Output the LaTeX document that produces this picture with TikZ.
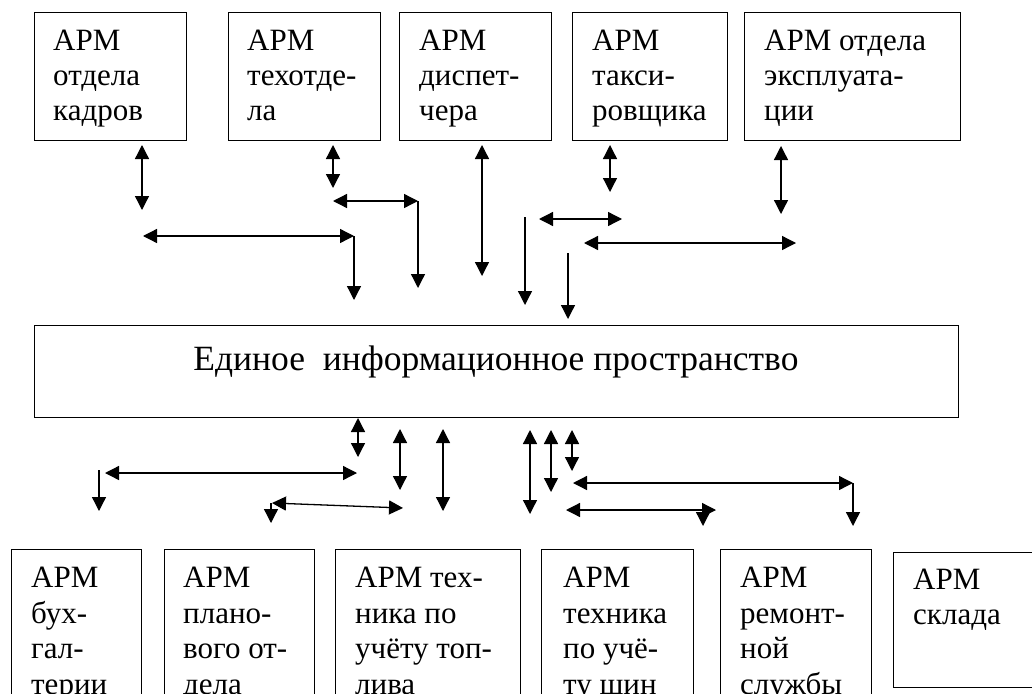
\documentclass[tikz,border=0pt]{standalone}
\usepackage{fontspec}
\setmainfont{Liberation Serif}
\usetikzlibrary{arrows.meta}
\tikzset{
  box/.style={draw, line width=1.3pt, inner sep=0pt, anchor=north west},
  lbl/.style={font=\fontsize{31}{35}\selectfont, align=left, inner sep=0pt, anchor=north west},
  blbl/.style={font=\fontsize{31}{35.5}\selectfont, align=left, inner sep=0pt, anchor=north west},
  tip/.tip={Triangle[length=14pt,width=14pt]},
  dbl/.style={line width=1.3pt, tip-tip},
  one/.style={line width=1.3pt, -tip},
}
\begin{document}
\begin{tikzpicture}[x=1pt,y=-1pt]
\useasboundingbox (0,0) rectangle (1032,693);
% top boxes
\node[box, minimum width=152, minimum height=128] (t1) at (34,12) {};
\node[box, minimum width=152, minimum height=128] (t2) at (228,12) {};
\node[box, minimum width=152, minimum height=128] (t3) at (399,12) {};
\node[box, minimum width=155, minimum height=128] (t4) at (572,12) {};
\node[box, minimum width=216, minimum height=128] (t5) at (744,12) {};
\node[lbl] (t1l) at (53,29.5) {АРМ\\отдела\\кадров};
\node[lbl] (t2l) at (247,29.5) {АРМ\\техотде-\\ла};
\node[lbl] (t3l) at (419,29.5) {АРМ\\диспет-\\чера};
\node[lbl] (t4l) at (592,29.5) {АРМ\\такси-\\ровщика};
\node[lbl] (t5l) at (764,29.5) {АРМ отдела\\эксплуата-\\ции};
% bus
\node[box, minimum width=924, minimum height=92] (bus) at (34,325) {};
\node[font=\fontsize{35.5}{40}\selectfont, inner sep=0pt, anchor=base] (busl) at (496,370) {Единое\ \ информационное пространство};
% bottom boxes
\node[box, minimum width=130, minimum height=180] (b1) at (11,549) {};
\node[box, minimum width=150, minimum height=180] (b2) at (164,549) {};
\node[box, minimum width=185, minimum height=180] (b3) at (335,549) {};
\node[box, minimum width=152, minimum height=180] (b4) at (541,549) {};
\node[box, minimum width=151, minimum height=180] (b5) at (720,549) {};
\node[box, minimum width=155, minimum height=135] (b6) at (893,552) {};
\node[blbl] (b1l) at (31,567) {АРМ\\бух-\\гал-\\терии};
\node[blbl] (b2l) at (183,567) {АРМ\\плано-\\вого от-\\дела};
\node[blbl] (b3l) at (355,567) {АРМ тех-\\ника по\\учёту топ-\\лива};
\node[blbl] (b4l) at (563,567) {АРМ\\техника\\по учё-\\ту шин};
\node[blbl] (b5l) at (740,567) {АРМ\\ремонт-\\ной\\службы};
\node[lbl] (b6l) at (913,569) {АРМ\\склада};
% top connector points
\coordinate (a1u) at (142,145); \coordinate (a1d) at (142,210);
\coordinate (a2u) at (333,145); \coordinate (a2d) at (333,188);
\coordinate (a3l) at (333,201); \coordinate (a3r) at (418,201); \coordinate (a3d) at (418,288);
\coordinate (a4l) at (143,236); \coordinate (a4r) at (354,236); \coordinate (a4d) at (354,300);
\coordinate (a5u) at (482,145); \coordinate (a5d) at (482,276);
\coordinate (c1u) at (610,145); \coordinate (c1d) at (610,192);
\coordinate (c2l) at (539,219); \coordinate (c2r) at (622,219);
\coordinate (c3u) at (525,217); \coordinate (c3d) at (525,305);
\coordinate (c4l) at (584,243); \coordinate (c4r) at (796,243);
\coordinate (c5u) at (568,253); \coordinate (c5d) at (568,319);
\coordinate (c6u) at (781,146); \coordinate (c6d) at (781,214);
\draw[dbl] (a1u) -- (a1d);
\draw[dbl] (a2u) -- (a2d);
\draw[dbl] (a3l) -- (a3r); \draw[one] (a3r) -- (a3d);
\draw[dbl] (a4l) -- (a4r); \draw[one] (a4r) -- (a4d);
\draw[dbl] (a5u) -- (a5d);
\draw[dbl] (c1u) -- (c1d);
\draw[dbl] (c2l) -- (c2r);
\draw[one] (c3u) -- (c3d);
\draw[dbl] (c4l) -- (c4r);
\draw[one] (c5u) -- (c5d);
\draw[dbl] (c6u) -- (c6d);
% bottom connector points
\coordinate (e1u) at (358,418); \coordinate (e1d) at (358,457);
\coordinate (e2l) at (105,473); \coordinate (e2r) at (357,473);
\coordinate (e3u) at (99,470); \coordinate (e3d) at (99,511);
\coordinate (e4u) at (400,429); \coordinate (e4d) at (400,490);
\coordinate (e5u) at (443,429); \coordinate (e5d) at (443,511);
\coordinate (e6l) at (272,503); \coordinate (e6r) at (403,508);
\coordinate (e7u) at (271,503); \coordinate (e7d) at (271,523);
\coordinate (f1u) at (530,430); \coordinate (f1d) at (530,514);
\coordinate (f2u) at (551,430); \coordinate (f2d) at (551,492);
\coordinate (f3u) at (572,430); \coordinate (f3d) at (572,471);
\coordinate (f4l) at (573,483); \coordinate (f4r) at (853,483); \coordinate (f4d) at (853,526);
\coordinate (f5l) at (566,510); \coordinate (f5r) at (716,510);
\coordinate (f6u) at (703,510); \coordinate (f6d) at (703,526);
\draw[dbl] (e1u) -- (e1d);
\draw[dbl] (e2l) -- (e2r);
\draw[one] (e3u) -- (e3d);
\draw[dbl] (e4u) -- (e4d);
\draw[dbl] (e5u) -- (e5d);
\draw[dbl] (e6l) -- (e6r);
\draw[one] (e7u) -- (e7d);
\draw[dbl] (f1u) -- (f1d);
\draw[dbl] (f2u) -- (f2d);
\draw[dbl] (f3u) -- (f3d);
\draw[dbl] (f4l) -- (f4r); \draw[one] (f4r) -- (f4d);
\draw[dbl] (f5l) -- (f5r);
\draw[one] (f6u) -- (f6d);
\end{tikzpicture}
\end{document}
